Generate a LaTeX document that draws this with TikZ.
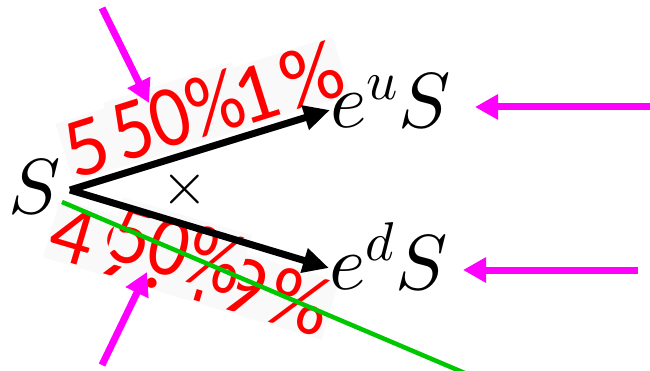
\documentclass[tikz,border=0pt]{standalone}
\usepackage{fontspec}
\usepackage{unicode-math}
\setmathfont{Latin Modern Math}
\newfontfamily\redsans[LetterSpace=8]{Carlito}
\newfontfamily\redsanstight{Carlito}
\usetikzlibrary{arrows.meta,calc}
\definecolor{mag}{RGB}{255,0,255}
\definecolor{grn}{RGB}{0,200,0}
\definecolor{boxg}{RGB}{249,249,249}
\begin{document}
\begin{tikzpicture}[x=1pt,y=-1pt,
  mathlbl/.style={inner sep=0pt, font=\fontsize{78}{80}\selectfont},
  pctunder/.style={text=red, font=\redsans\fontsize{85}{85}\selectfont, inner sep=1pt, fill=boxg},
  pctover/.style={text=red, font=\redsanstight\fontsize{78}{78}\selectfont, inner xsep=0pt, inner ysep=3pt, fill=boxg},
  blkarrow/.style={line width=7pt, -{Triangle[length=26pt,width=24pt]}},
  magarrow/.style={mag, line width=7pt, -{Triangle[length=23pt,width=24pt]}},
  grnline/.style={grn, line width=4.5pt}]
\useasboundingbox (0,0) rectangle (650,371);
\clip (0,0) rectangle (650,371);

% red probability labels
\node[pctunder, rotate=17.5] (pu) at (203,109) {50.51\%};
\node[pctover, rotate=17.5, yscale=1.12] (puo) at (177.5,114.5) {50\%};
\node[pctunder, rotate=-16.5] (pd) at (191,269.5) {49.49\%};
\node[pctover, rotate=-16.5, yscale=1.12] (pdo) at (178,248.5) {50\%};

% main nodes
\node[mathlbl, anchor=base west] (S) at (8,214) {$S$};
\node[mathlbl, anchor=base west] (eu) at (330,128) {$e^{u}S$};
\node[mathlbl, anchor=base west] (ed) at (329,289) {$e^{d}S$};
\node[inner sep=0pt, font=\fontsize{60}{60}\selectfont] (x) at (185,190) {$\times$};

\coordinate (v) at (70,190);

% green line
\coordinate (g1) at (62,202);
\coordinate (g2) at (480,379.5);
\draw[grnline] (g1) -- (g2);

% black arrows
\draw[blkarrow] (v) -- ([yshift=18pt]eu.base west);
\draw[blkarrow] (v) -- ([yshift=21pt]ed.base west);

% magenta pointers
\coordinate (m1) at (102,8);
\coordinate (m1t) at (149,103);
\coordinate (m2) at (102,365);
\coordinate (m2t) at (147,272);
\coordinate (m3) at (650,107);
\coordinate (m3t) at (475,107);
\coordinate (m4) at (638,270);
\coordinate (m4t) at (463,270);
\draw[magarrow] (m1) -- (m1t);
\draw[magarrow] (m2) -- (m2t);
\draw[magarrow] (m3) -- (m3t);
\draw[magarrow] (m4) -- (m4t);
\end{tikzpicture}
\end{document}
